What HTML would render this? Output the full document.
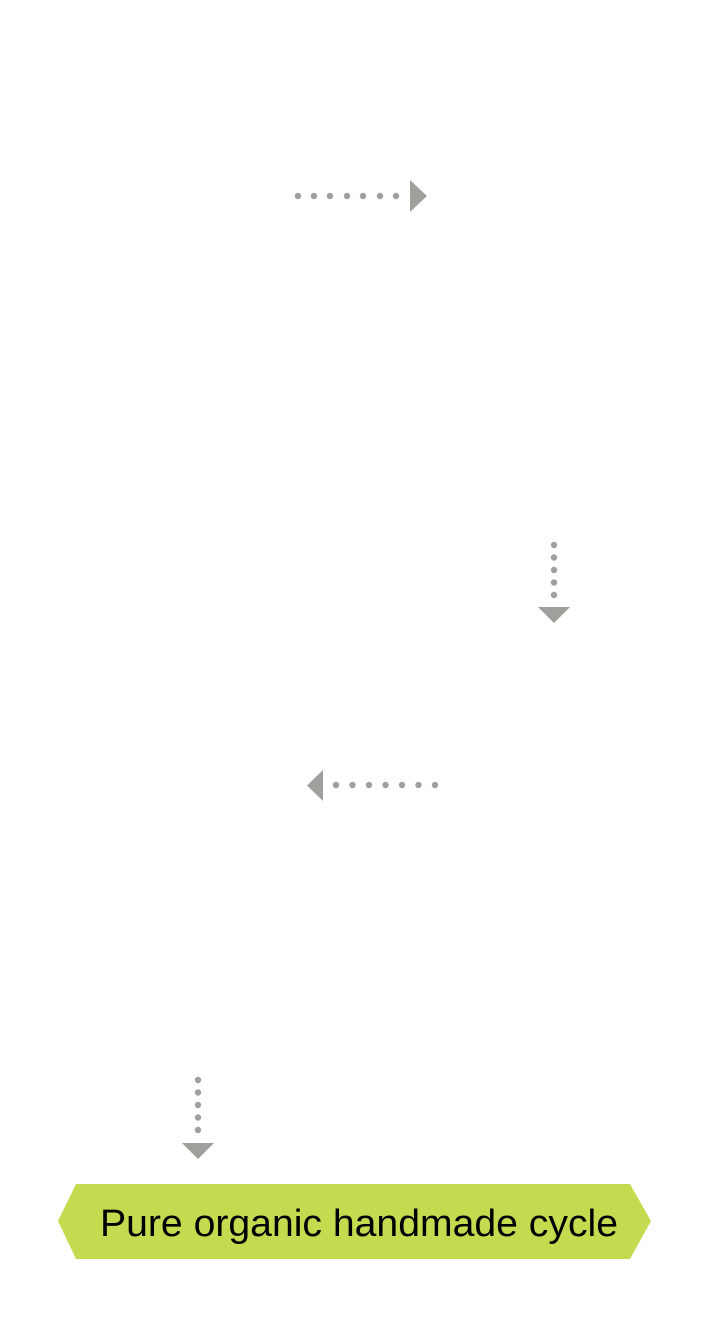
<!DOCTYPE html>
<html><head><style>
html,body{margin:0;padding:0;background:#fff;}
</style></head><body>
<svg width="712" height="1319" viewBox="0 0 712 1319" xmlns="http://www.w3.org/2000/svg">
<g fill="#a09f9b">
<circle cx="298" cy="196" r="3.2"/><circle cx="314" cy="196" r="3.2"/><circle cx="330" cy="196" r="3.2"/><circle cx="347" cy="196" r="3.2"/><circle cx="363" cy="196" r="3.2"/><circle cx="380" cy="196" r="3.2"/><circle cx="396" cy="196" r="3.2"/>
<polygon points="410,180 427,196 410,212"/>
<circle cx="554" cy="545" r="3.2"/><circle cx="554" cy="557.5" r="3.2"/><circle cx="554" cy="570" r="3.2"/><circle cx="554" cy="582.5" r="3.2"/><circle cx="554" cy="595" r="3.2"/>
<polygon points="538,607 570,607 554,623"/>
<polygon points="323,770 307,785.5 323,801"/>
<circle cx="336" cy="785" r="3.2"/><circle cx="352.5" cy="785" r="3.2"/><circle cx="369" cy="785" r="3.2"/><circle cx="385.5" cy="785" r="3.2"/><circle cx="402" cy="785" r="3.2"/><circle cx="418.5" cy="785" r="3.2"/><circle cx="435" cy="785" r="3.2"/>
<circle cx="198" cy="1080" r="3.2"/><circle cx="198" cy="1092.5" r="3.2"/><circle cx="198" cy="1105" r="3.2"/><circle cx="198" cy="1117.5" r="3.2"/><circle cx="198" cy="1130" r="3.2"/>
<polygon points="182,1143 214,1143 198,1159"/>
</g>
<polygon points="76,1184 630,1184 651,1221 630,1259 76,1259 58,1221" fill="#c5db4f"/>
<text x="100" y="1236" font-family="Liberation Sans, sans-serif" font-size="38" fill="#000" textLength="518" lengthAdjust="spacingAndGlyphs">Pure organic handmade cycle</text>
</svg>
</body></html>
